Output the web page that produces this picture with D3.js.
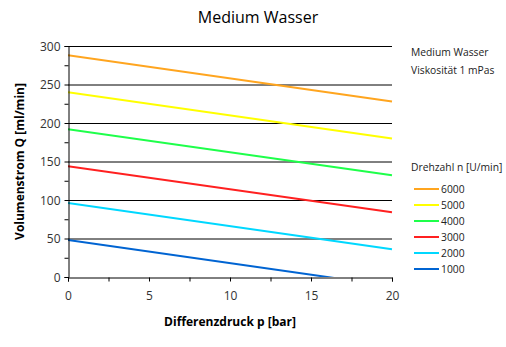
<!DOCTYPE html>
<html>
<head>
<meta charset="utf-8">
<script src="https://cdn.jsdelivr.net/npm/d3@7"></script>
<style>
  body { margin: 0; background: #fff; }
  text { font-family: "Open Sans", "Noto Sans", sans-serif; }
</style>
</head>
<body>
<script>
// speeds in U/min, flow at 0 bar and 20 bar
var speeds = [6000, 5000, 4000, 3000, 2000, 1000]
var pressures = [0, 20]
var flowStart = [288, 240, 192, 144, 96, 48]
var flowEnd = [228, 180, 132, 84, 36, -12]
var colors = ["#ffa51f", "#ffff00", "#1eff4a", "#ff2020", "#00d8ff", "#0064d2"]
var yTicks = [0, 50, 100, 150, 200, 250, 300]
var xTicks = [0, 5, 10, 15, 20]

var screen = {width: 506, height: 347}
var margins = {top: 46, bottom: 70, left: 68, right: 114}
var width = screen.width - margins.left - margins.right
var height = screen.height - margins.top - margins.bottom

var xScale = d3.scaleLinear().domain([0, 20]).range([0, width])
var yScale = d3.scaleLinear().domain([0, 300]).range([height, 0])

var svg = d3.select("body").append("svg")
  .attr("width", screen.width)
  .attr("height", screen.height)

svg.append("text")
  .attr("x", 258).attr("y", 23)
  .attr("text-anchor", "middle")
  .style("font-size", "16px")
  .text("Medium Wasser")

var plot = svg.append("g")
  .attr("transform", "translate(" + margins.left + "," + margins.top + ")")

// gridlines
plot.selectAll(".grid")
  .data(yTicks.slice(1))
  .enter().append("line")
  .attr("x1", 0).attr("x2", width)
  .attr("y1", function(d) { return yScale(d) + 0.5 })
  .attr("y2", function(d) { return yScale(d) + 0.5 })
  .attr("stroke", "#000").attr("stroke-width", 1)

plot.append("clipPath").attr("id", "clip")
  .append("rect").attr("width", width + 2).attr("height", height)

var line = d3.line()
  .x(function(d) { return xScale(d[0]) })
  .y(function(d) { return yScale(d[1]) })

plot.append("g").attr("clip-path", "url(#clip)")
  .selectAll("path")
  .data(speeds)
  .enter().append("path")
  .attr("d", function(d, i) {
    return line([[pressures[0], flowStart[i]], [pressures[1], flowEnd[i]]])
  })
  .attr("fill", "none")
  .attr("stroke", function(d, i) { return colors[i] })
  .attr("stroke-width", 2)

// axes with minor ticks
var yAxis = plot.append("g").attr("transform", "translate(0.5,0)")
  .call(d3.axisLeft(yScale).tickValues(d3.range(0, 301, 25)).tickSize(4)
    .tickFormat(function(d) { return d % 50 == 0 ? d : "" }))
var xAxis = plot.append("g").attr("transform", "translate(0," + (height + 0.5) + ")")
  .call(d3.axisBottom(xScale).tickValues(d3.range(0, 20.1, 2.5)).tickSize(4)
    .tickFormat(function(d) { return d % 5 == 0 ? d : "" }))

yAxis.selectAll("text").attr("x", -8).attr("dy", "0.35em")
xAxis.selectAll("text").attr("y", 14)
;[yAxis, xAxis].forEach(function(a) {
  a.select(".domain").attr("stroke", "#000")
  a.selectAll("line").attr("stroke", "#000")
  a.selectAll("text").style("font-size", "12px").attr("fill", "#333")
    .style("font-family", "\"Open Sans\", sans-serif")
})

svg.append("text")
  .attr("transform", "translate(24," + (margins.top + height / 2) + ") rotate(-90)")
  .attr("text-anchor", "middle")
  .style("font-size", "12px").style("font-weight", "bold")
  .text("Volumenstrom Q [ml/min]")

svg.append("text")
  .attr("x", margins.left + width / 2).attr("y", 326)
  .attr("text-anchor", "middle")
  .style("font-size", "12px").style("font-weight", "bold")
  .text("Differenzdruck p [bar]")

// legend
var lg = svg.append("g").attr("transform", "translate(411,0)")
var legendFont = "10.3px"
lg.append("text").attr("x", 0).attr("y", 56).style("font-size", legendFont).attr("fill", "#222").text("Medium Wasser")
lg.append("text").attr("x", 0).attr("y", 74).style("font-size", legendFont).attr("fill", "#222").text("Viskosität 1 mPas")
lg.append("text").attr("x", 0).attr("y", 171).style("font-size", legendFont).attr("fill", "#222").text("Drehzahl n [U/min]")

var items = lg.selectAll(".item")
  .data(speeds)
  .enter().append("g")
  .attr("transform", function(d, i) { return "translate(0," + (189 + i * 16) + ")" })
items.append("line")
  .attr("x1", 3).attr("x2", 28).attr("y1", 0).attr("y2", 0)
  .attr("stroke", function(d, i) { return colors[i] })
  .attr("stroke-width", 2)
items.append("text")
  .attr("x", 30).attr("y", 4)
  .style("font-size", legendFont).attr("fill", "#222")
  .text(function(d) { return d })
</script>
</body>
</html>
